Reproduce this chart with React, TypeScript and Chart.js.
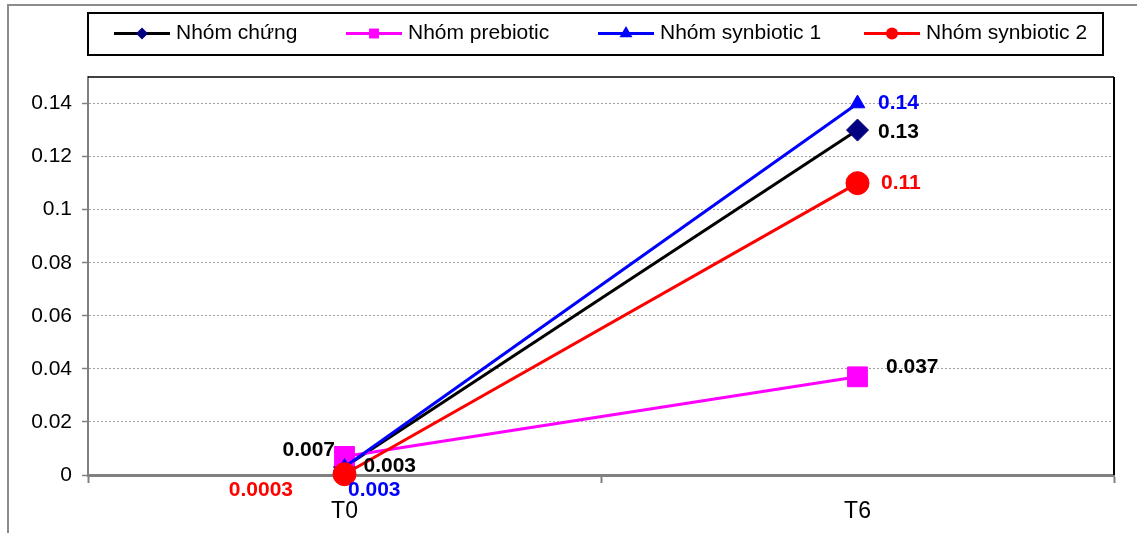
import { useEffect, useRef } from 'react';
import { Chart, registerables } from 'chart.js';

Chart.register(...registerables);

// ---- data ----
const categories = ['T0', 'T6'];
const seriesNames = ['Nhóm chứng', 'Nhóm prebiotic', 'Nhóm synbiotic 1', 'Nhóm synbiotic 2'];
const nhomChung = [0.003, 0.13];
const nhomPrebiotic = [0.007, 0.037];
const nhomSynbiotic1 = [0.003, 0.14];
const nhomSynbiotic2 = [0.0003, 0.11];
const yTickValues = [0, 0.02, 0.04, 0.06, 0.08, 0.1, 0.12, 0.14];
const yMax = 0.15;

// ---- styles ----
const FONT = '"Liberation Sans", Arial, sans-serif';
const FONT_SIZE = 21;
const X_FONT_SIZE = 23;

type PointKind = 'rectRot' | 'rect' | 'triangle' | 'circle';
const seriesStyles: { line: string; marker: string; point: PointKind; radius: number; legendRadius: number; labelColor: string }[] = [
  { line: '#000000', marker: '#000080', point: 'rectRot', radius: 11, legendRadius: 6, labelColor: '#000000' },
  { line: '#FF00FF', marker: '#FF00FF', point: 'rect', radius: 14, legendRadius: 7, labelColor: '#000000' },
  { line: '#0000FF', marker: '#0000FF', point: 'triangle', radius: 8.5, legendRadius: 7.5, labelColor: '#0000FF' },
  { line: '#FF0000', marker: '#FF0000', point: 'circle', radius: 11.5, legendRadius: 6, labelColor: '#FF0000' },
];

// value-label placement relative to each point: [dx, dy, align]
const labelOffsets: [number, number, CanvasTextAlign][][] = [
  [[19, -1, 'left'], [20.5, 2, 'left']],
  [[-9.5, -6, 'right'], [28.5, -10, 'left']],
  [[3.5, 23, 'left'], [20.5, 0, 'left']],
  [[-51.5, 16, 'right'], [23.5, 0, 'left']],
];

// legend sample start x for each entry
const legendItemX = [114, 346, 598, 864];

const seriesValues = [nhomChung, nhomPrebiotic, nhomSynbiotic1, nhomSynbiotic2];

function drawMarker(ctx: CanvasRenderingContext2D, kind: PointKind, x: number, y: number, r: number, color: string) {
  ctx.save();
  ctx.fillStyle = color;
  ctx.beginPath();
  if (kind === 'rectRot') {
    ctx.moveTo(x - r, y);
    ctx.lineTo(x, y - r);
    ctx.lineTo(x + r, y);
    ctx.lineTo(x, y + r);
    ctx.closePath();
  } else if (kind === 'rect') {
    const s = r * Math.SQRT1_2;
    ctx.rect(x - s, y - s, 2 * s, 2 * s);
  } else if (kind === 'triangle') {
    ctx.moveTo(x, y - r);
    ctx.lineTo(x + r * 0.866, y + r * 0.5);
    ctx.lineTo(x - r * 0.866, y + r * 0.5);
    ctx.closePath();
  } else {
    ctx.arc(x, y, r, 0, Math.PI * 2);
  }
  ctx.fill();
  ctx.restore();
}

const framePlugin = {
  id: 'frame',
  beforeDraw(chart: Chart) {
    const ctx = chart.ctx;
    ctx.save();
    ctx.fillStyle = '#ffffff';
    ctx.fillRect(0, 0, chart.width, chart.height);
    ctx.strokeStyle = '#8c8c8c';
    ctx.lineWidth = 2;
    ctx.beginPath();
    ctx.moveTo(8, chart.height);
    ctx.lineTo(8, 5);
    ctx.lineTo(chart.width, 5);
    ctx.stroke();
    ctx.restore();
  },
  beforeDatasetsDraw(chart: Chart) {
    const { ctx, chartArea } = chart;
    ctx.save();
    ctx.strokeStyle = '#000000';
    ctx.lineWidth = 1.5;
    ctx.beginPath();
    ctx.moveTo(chartArea.left, chartArea.top);
    ctx.lineTo(chartArea.right, chartArea.top);
    ctx.stroke();
    ctx.lineWidth = 2;
    ctx.beginPath();
    ctx.moveTo(chartArea.right, chartArea.top);
    ctx.lineTo(chartArea.right, chartArea.bottom);
    ctx.stroke();
    ctx.restore();
  },
};

const legendPlugin = {
  id: 'boxLegend',
  afterDraw(chart: Chart) {
    const ctx = chart.ctx;
    ctx.save();
    ctx.strokeStyle = '#000000';
    ctx.lineWidth = 2;
    ctx.strokeRect(88, 13, 1015, 42);
    const cy = 33.5;
    seriesNames.forEach((name, i) => {
      const st = seriesStyles[i];
      const x0 = legendItemX[i];
      ctx.strokeStyle = st.line;
      ctx.lineWidth = 3;
      ctx.beginPath();
      ctx.moveTo(x0, cy);
      ctx.lineTo(x0 + 56, cy);
      ctx.stroke();
      drawMarker(ctx, st.point, x0 + 28, cy, st.legendRadius, st.marker);
      ctx.fillStyle = '#000000';
      ctx.font = `${FONT_SIZE}px ${FONT}`;
      ctx.textAlign = 'left';
      ctx.textBaseline = 'middle';
      ctx.fillText(name, x0 + 62, cy);
    });
    ctx.restore();
  },
};

const valueLabelPlugin = {
  id: 'valueLabels',
  afterDatasetsDraw(chart: Chart) {
    const ctx = chart.ctx;
    ctx.save();
    ctx.font = `bold ${FONT_SIZE}px ${FONT}`;
    ctx.textBaseline = 'middle';
    seriesValues.forEach((values, i) => {
      const meta = chart.getDatasetMeta(i);
      values.forEach((v, j) => {
        const pt = meta.data[j];
        const [dx, dy, align] = labelOffsets[i][j];
        ctx.fillStyle = seriesStyles[i].labelColor;
        ctx.textAlign = align;
        ctx.fillText(String(v), pt.x + dx, pt.y + dy);
      });
    });
    ctx.restore();
  },
};

export default function App() {
  const ref = useRef<HTMLCanvasElement>(null);

  useEffect(() => {
    const canvas = ref.current;
    if (!canvas) return;
    const drawOrder = [4, 3, 2, 1];
    const chart = new Chart(canvas, {
      type: 'line',
      data: {
        labels: categories,
        datasets: seriesValues.map((values, i) => ({
          label: seriesNames[i],
          data: values,
          order: drawOrder[i],
          clip: false,
          borderColor: seriesStyles[i].line,
          borderWidth: 3,
          backgroundColor: seriesStyles[i].marker,
          pointStyle: seriesStyles[i].point,
          pointRadius: seriesStyles[i].radius,
          pointHoverRadius: seriesStyles[i].radius,
          pointBackgroundColor: seriesStyles[i].marker,
          pointBorderColor: seriesStyles[i].marker,
          pointBorderWidth: 1,
          tension: 0,
          fill: false,
        })),
      },
      options: {
        animation: false,
        responsive: false,
        events: [],
        layout: { padding: { left: 0, top: 77, right: 23, bottom: 0 } },
        plugins: {
          legend: { display: false },
          tooltip: { enabled: false },
        },
        scales: {
          x: {
            type: 'category',
            offset: true,
            grid: {
              display: true,
              offset: true,
              drawOnChartArea: false,
              drawTicks: true,
              tickLength: 8,
              tickColor: '#808080',
              tickWidth: 2,
            },
            border: { display: true, color: '#808080', width: 3 },
            ticks: {
              color: '#000000',
              font: { family: FONT, size: X_FONT_SIZE },
              padding: 15,
              maxRotation: 0,
            },
            afterFit: (scale: any) => {
              scale.height = 58;
            },
          },
          y: {
            type: 'linear',
            min: 0,
            max: yMax,
            afterBuildTicks: (scale: any) => {
              scale.ticks = yTickValues.map((v) => ({ value: v }));
            },
            grid: {
              color: '#a0a0a0',
              lineWidth: 1,
              drawTicks: true,
              tickLength: 6,
              tickColor: '#808080',
              tickWidth: 1.5,
            },
            border: { display: true, color: '#808080', width: 2, dash: [2, 2] },
            ticks: {
              color: '#000000',
              font: { family: FONT, size: FONT_SIZE },
              padding: 10,
              callback: (v: any) => String(v),
            },
            afterFit: (scale: any) => {
              scale.width = 88;
            },
          },
        },
      },
      plugins: [framePlugin, legendPlugin, valueLabelPlugin],
    });
    return () => chart.destroy();
  }, []);

  return (
    <canvas
      ref={ref}
      width={1137}
      height={533}
      style={{ position: 'fixed', left: 0, top: 0, width: 1137, height: 533 }}
    />
  );
}
